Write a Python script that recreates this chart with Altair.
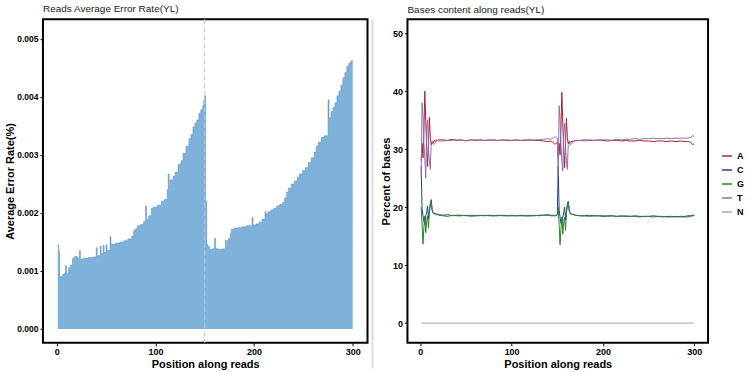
import altair as alt
import pandas as pd

FONT = "Liberation Sans"

# ---------------- Left panel: average error rate (values in units of 1e-4) ----------------
err_pos = [1, 2, 3, 6, 8, 9, 10, 11, 12, 14,
           16, 18, 21, 23, 24, 27, 32, 37, 40, 41,
           44, 45, 47, 48, 50, 51, 54, 55, 60, 64,
           68, 72, 76, 78, 80, 82, 85, 88, 90, 91,
           93, 96, 98, 102, 106, 109, 112, 113, 114, 115,
           118, 120, 123, 126, 128, 131, 134, 136, 138, 140,
           142, 144, 146, 148, 149, 150,
           151, 152, 153, 155, 158, 160, 161, 164, 168, 171,
           172, 173, 174, 176, 177, 180, 184, 188, 192, 198,
           199, 202, 205, 208, 211, 212, 214, 217, 220, 223,
           226, 229, 231, 233, 235, 238, 241, 244, 246, 249,
           252, 255, 258, 261, 263, 265, 268, 271, 275, 276,
           278, 280, 282, 284, 286, 288, 290, 292, 294, 296,
           298, 300]
err_e4 = [14.5, 13.3, 9.0, 9.4, 9.6, 10.9, 9.6, 9.2, 10.6, 11.0,
          12.2, 12.5, 12.2, 13.5, 12.0, 12.2, 12.3, 12.4, 14.0, 12.6,
          14.3, 13.0, 14.4, 13.2, 14.5, 13.5, 15.9, 14.6, 14.8, 15.0,
          15.2, 15.5, 16.0, 17.0, 17.3, 17.8, 18.0, 18.5, 21.2, 18.8,
          19.5, 20.8, 21.0, 21.3, 22.0, 22.3, 24.0, 26.7, 24.6, 25.7,
          26.3, 27.0, 28.4, 29.0, 30.3, 31.5, 32.8, 33.5, 34.8, 35.5,
          36.0, 37.2, 37.8, 38.5, 39.5, 40.2,
          22.0, 14.6, 14.2, 13.7, 13.8, 15.6, 13.8, 13.7, 13.8, 15.3,
          14.0, 15.2, 15.6, 16.5, 17.2, 17.4, 17.5, 17.6, 17.8, 19.2,
          17.9, 18.1, 18.4, 18.9, 20.2, 19.8, 20.2, 20.5, 20.8, 21.2,
          21.5, 21.9, 22.6, 23.6, 24.3, 25.0, 25.5, 26.2, 26.7, 27.3,
          27.8, 28.7, 29.5, 30.5, 31.5, 32.2, 33.0, 33.3, 39.5, 36.4,
          37.5, 38.2, 39.0, 40.2, 41.0, 42.0, 43.3, 44.2, 45.3, 45.8,
          46.2, 46.4]
err_ticks = [0.0, 0.001, 0.002, 0.003, 0.004, 0.005]
read_split = [150]

# ---------------- Right panel: base content (%) ----------------
base_pos = (list(range(1, 21)) + list(range(25, 141, 5)) + list(range(143, 171))
            + list(range(175, 291, 5)) + [293, 296, 298, 300])
pct_A = [28.0, 31.0, 28.5, 33.0, 40.0, 35.0, 30.5, 27.0, 31.0, 35.5, 32.0, 30.8, 31.3, 31.0, 31.4, 31.5, 31.3, 31.6, 31.5, 31.6,
         31.6, 31.5, 31.7, 31.5, 31.6, 31.4, 31.6, 31.5, 31.6, 31.5, 31.5, 31.6, 31.5, 31.6, 31.5, 31.5, 31.6, 31.5, 31.5, 31.6, 31.5, 31.5, 31.4, 31.3,
         31.4, 31.3, 31.2, 31.0, 30.9, 30.9, 31.0, 31.2,
         28.5, 31.0, 29.0, 33.5, 39.8, 34.5, 30.0, 26.8, 31.0, 35.3, 32.0, 30.9, 31.3, 31.0, 31.2, 31.4, 31.3, 31.5, 31.4, 31.5,
         31.5, 31.6, 31.5, 31.5, 31.6, 31.5, 31.4, 31.5, 31.5, 31.4, 31.5, 31.4, 31.4, 31.5, 31.4, 31.4, 31.3, 31.4, 31.4, 31.3, 31.4, 31.3, 31.4, 31.3,
         31.3, 31.2, 30.8, 30.9]
pct_T = [25.0, 38.0, 35.5, 31.0, 28.5, 25.0, 33.5, 35.0, 30.0, 28.0, 26.5, 31.0, 31.2, 30.9, 30.8, 31.0, 31.2, 31.4, 31.5, 31.4,
         31.4, 31.5, 31.5, 31.6, 31.5, 31.5, 31.5, 31.6, 31.5, 31.5, 31.6, 31.5, 31.5, 31.5, 31.6, 31.5, 31.5, 31.5, 31.6, 31.5, 31.6, 31.6, 31.7, 31.8,
         31.7, 31.8, 31.9, 32.0, 32.1, 32.1, 32.0, 31.9,
         25.5, 37.5, 35.0, 31.0, 28.0, 26.2, 33.0, 34.5, 30.0, 28.0, 26.5, 30.8, 31.0, 30.8, 30.8, 31.0, 31.2, 31.3, 31.5, 31.4,
         31.5, 31.4, 31.6, 31.5, 31.5, 31.6, 31.6, 31.5, 31.7, 31.6, 31.7, 31.7, 31.8, 31.7, 31.8, 31.8, 31.9, 31.8, 31.8, 31.9, 31.8, 31.9, 31.9, 31.9,
         31.9, 32.0, 32.3, 32.2]
pct_C = [27.0, 19.8, 18.5, 17.5, 17.0, 18.5, 19.0, 20.2, 18.0, 19.5, 20.5, 21.3, 19.5, 19.0, 18.9, 18.8, 18.9, 18.7, 18.8, 18.7,
         18.6, 18.7, 18.5, 18.6, 18.6, 18.5, 18.6, 18.5, 18.6, 18.5, 18.6, 18.5, 18.5, 18.6, 18.5, 18.5, 18.5, 18.6, 18.5, 18.5, 18.5, 18.6, 18.6, 18.6,
         18.6, 18.6, 18.5, 18.6, 18.5, 18.6, 18.6, 18.7,
         27.0, 19.5, 18.3, 17.2, 17.0, 18.3, 19.0, 20.0, 17.8, 19.3, 20.5, 21.0, 19.4, 19.0, 18.8, 18.8, 18.7, 18.7, 18.7, 18.6,
         18.5, 18.5, 18.6, 18.5, 18.5, 18.4, 18.5, 18.5, 18.4, 18.5, 18.4, 18.4, 18.5, 18.4, 18.4, 18.4, 18.5, 18.4, 18.3, 18.4, 18.4, 18.3, 18.4, 18.4,
         18.5, 18.5, 18.6, 18.6]
pct_G = [20.0, 17.0, 13.6, 16.5, 18.5, 15.6, 17.5, 18.5, 16.4, 19.0, 20.5, 21.0, 19.6, 19.0, 18.8, 18.9, 18.7, 18.8, 18.7, 18.6,
         18.5, 18.4, 18.6, 18.5, 18.5, 18.6, 18.4, 18.5, 18.5, 18.6, 18.5, 18.5, 18.6, 18.5, 18.5, 18.6, 18.5, 18.5, 18.5, 18.5, 18.6, 18.5, 18.6, 18.7,
         18.5, 18.5, 18.6, 18.5, 18.6, 18.5, 18.5, 18.6,
         20.0, 17.0, 13.5, 16.3, 18.3, 15.3, 17.3, 18.3, 16.0, 19.0, 20.3, 20.8, 19.5, 18.9, 18.8, 18.8, 18.7, 18.7, 18.6, 18.6,
         18.5, 18.5, 18.4, 18.5, 18.5, 18.5, 18.4, 18.5, 18.4, 18.4, 18.5, 18.4, 18.4, 18.3, 18.4, 18.4, 18.3, 18.4, 18.4, 18.3, 18.3, 18.4, 18.3, 18.3,
         18.3, 18.4, 18.5, 18.5]
n_pos = [1, 300]
pct_N = [0.0, 0.0]

bases = ["A", "C", "G", "T", "N"]
base_colors = ["#b22030", "#24438f", "#2e7d32", "#8a70b0", "#a8a8a8"]
pct_ticks = [0, 10, 20, 30, 40, 50]
pos_ticks = [0, 100, 200, 300]

# ---------------- Build tables ----------------
err_df = pd.DataFrame({"pos": err_pos, "rate": [v / 10000 for v in err_e4]})

frames = []
for b, vals in [("A", pct_A), ("C", pct_C), ("G", pct_G), ("T", pct_T)]:
    assert len(vals) == len(base_pos), (b, len(vals), len(base_pos))
    frames.append(pd.DataFrame({"pos": base_pos, "pct": vals, "base": b}))
frames.append(pd.DataFrame({"pos": n_pos, "pct": pct_N, "base": "N"}))
base_df = pd.concat(frames, ignore_index=True)

x_scale = alt.Scale(domain=[-14, 315], nice=False, zero=False)

# ---------------- Left chart ----------------
x_left = alt.X("pos:Q", scale=x_scale,
               axis=alt.Axis(values=pos_ticks, title="Position along reads"))
y_left = alt.Y("rate:Q", scale=alt.Scale(domain=[-0.00024, 0.00534], nice=False, zero=False),
               axis=alt.Axis(values=err_ticks, format=".3f", title="Average Error Rate(%)",
                             titlePadding=1, labelFontSize=8.5))

area = alt.Chart(err_df).mark_area(interpolate="step-after", color="#7fb2db").encode(
    x=x_left, y=y_left, y2=alt.datum(0))
edge = alt.Chart(err_df).mark_line(interpolate="step-after", color="#4a7db0",
                                    strokeWidth=0.8, opacity=0.55).encode(x="pos:Q", y="rate:Q")
vline = alt.Chart(pd.DataFrame({"p": read_split})).mark_rule(
    color="#c8c8c8", strokeDash=[5, 3], strokeWidth=1).encode(x="p:Q")
sep = alt.Chart(pd.DataFrame({"k": [0]})).mark_rule(color="#dadada", strokeWidth=2).encode(
    x=alt.value(330), y=alt.value(0), y2=alt.value(350))

left = alt.layer(area, edge, vline, sep).properties(
    width=325, height=324,
    title=alt.TitleParams("Reads Average Error Rate(YL)", anchor="start", frame="group"))

# ---------------- Right chart ----------------
right = alt.Chart(base_df).mark_line(strokeWidth=1).encode(
    x=alt.X("pos:Q", scale=x_scale, axis=alt.Axis(values=pos_ticks, title="Position along reads")),
    y=alt.Y("pct:Q", scale=alt.Scale(domain=[-3.4, 52.4], nice=False, zero=False),
            axis=alt.Axis(values=pct_ticks, title="Percent of bases", titlePadding=1)),
    color=alt.Color("base:N", scale=alt.Scale(domain=bases, range=base_colors),
                    legend=alt.Legend(title=None, orient="none", legendX=679, legendY=131,
                                      symbolType="stroke")),
).properties(width=301, height=324,
             title=alt.TitleParams("Bases content along reads(YL)", anchor="start", frame="group"))

chart = alt.hconcat(left, right, spacing=4).properties(
    padding={"left": 3, "top": 3, "right": 5, "bottom": 4}, background="white"
).configure_view(
    stroke="black", strokeWidth=2
).configure_axis(
    grid=False, domain=False, labelFont=FONT, labelFontSize=9, labelFontWeight="bold",
    labelColor="black", tickColor="black", tickSize=3, tickWidth=1, labelPadding=2,
    titleFont=FONT, titleFontSize=11, titleFontWeight="bold", titleColor="black"
).configure_axisX(titlePadding=2).configure_title(
    font=FONT, fontSize=10, fontWeight="normal", color="#222222", anchor="start", offset=4
).configure_legend(
    labelFont=FONT, labelFontSize=9, labelFontWeight="bold", labelColor="black",
    symbolStrokeWidth=1.5, symbolSize=100, rowPadding=3
)

chart.save("out.html", embed_options={"renderer": "svg", "actions": False})
